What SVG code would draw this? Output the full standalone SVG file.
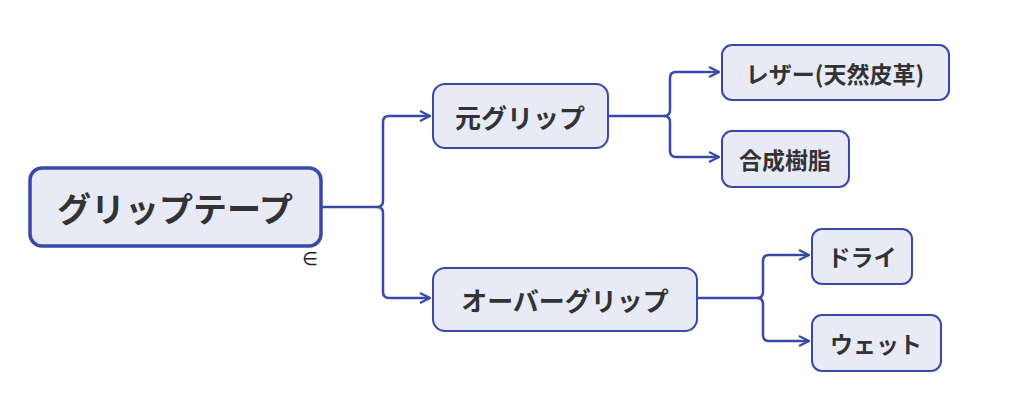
<svg xmlns="http://www.w3.org/2000/svg" width="1024" height="404" viewBox="0 0 1024 404">
<defs>
<marker id="a" viewBox="0 0 12 12" refX="11" refY="6" markerWidth="12" markerHeight="12" markerUnits="userSpaceOnUse" orient="auto"><path d="M1,1 L11,6 L1,11" fill="none" stroke="#3949ab" stroke-width="2.2"/></marker>
<style>
.n{fill:#e8eaf6;stroke:#3949ab;stroke-width:2}
.t{font-family:"Noto Sans CJK JP","Noto Sans",sans-serif;fill:#333;font-weight:bold;dominant-baseline:central}
.c{fill:none;stroke:#3949ab;stroke-width:2.5}
</style>
</defs>
<rect width="1024" height="404" fill="#fff"/>
<g id="connectors">
<path class="c" d="M321,207 H377 Q383,207 383,201 V122 Q383,116 389,116 H430" marker-end="url(#a)"/>
<path class="c" d="M377,207 Q383,207 383,213 V292 Q383,298 389,298 H430" marker-end="url(#a)"/>
<path class="c" d="M608,116 H664 Q670,116 670,110 V78 Q670,72 676,72 H719" marker-end="url(#a)"/>
<path class="c" d="M664,116 Q670,116 670,122 V151 Q670,157 676,157 H719" marker-end="url(#a)"/>
<path class="c" d="M697,298 H757 Q763,298 763,292 V261 Q763,255 769,255 H809" marker-end="url(#a)"/>
<path class="c" d="M757,298 Q763,298 763,304 V335 Q763,341 769,341 H809" marker-end="url(#a)"/>
</g>
<g id="root"><rect class="n" x="30" y="168" width="291" height="78" rx="12" style="stroke-width:3.5"/><text class="t" x="175" y="207" font-size="34" text-anchor="middle">グリップテープ</text>
<text x="310" y="258" font-family="DejaVu Sans,sans-serif" font-size="18" fill="#222" text-anchor="middle" dominant-baseline="central">∈</text></g>
<g id="moto"><rect class="n" x="433" y="84" width="175" height="64" rx="12"/><text class="t" x="520" y="116" font-size="26" text-anchor="middle">元グリップ</text></g>
<g id="over"><rect class="n" x="433" y="268" width="264" height="63" rx="12"/><text class="t" x="565" y="299" font-size="26" text-anchor="middle">オーバーグリップ</text></g>
<g id="leather"><rect class="n" x="722" y="45" width="227" height="55" rx="10"/><text class="t" x="835" y="73" font-size="23" text-anchor="middle">レザー(天然皮革)</text></g>
<g id="synth"><rect class="n" x="722" y="131" width="127" height="56" rx="10"/><text class="t" x="785" y="159" font-size="23" text-anchor="middle">合成樹脂</text></g>
<g id="dry"><rect class="n" x="812" y="229" width="100" height="55" rx="10"/><text class="t" x="862" y="256" font-size="23" text-anchor="middle">ドライ</text></g>
<g id="wet"><rect class="n" x="812" y="315" width="129" height="56" rx="10"/><text class="t" x="876" y="343" font-size="23" text-anchor="middle">ウェット</text></g>
</svg>
